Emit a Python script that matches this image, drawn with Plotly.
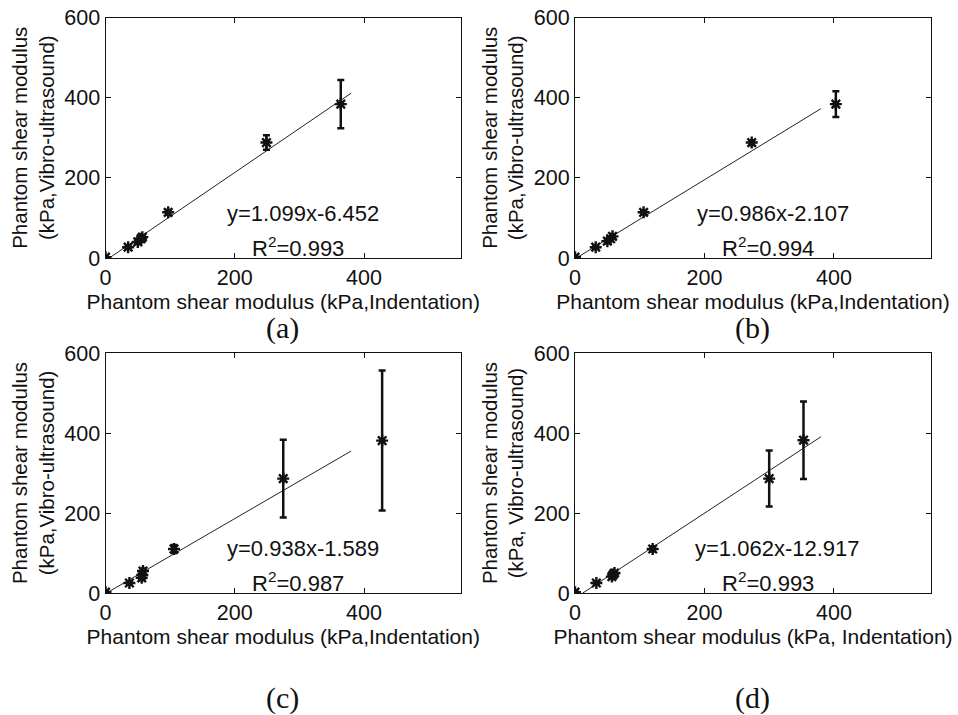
import plotly.graph_objects as go

# ---------------- data ----------------
panel_labels = ["(a)", "(b)", "(c)", "(d)"]

x_a = [0, 35, 50, 55, 57, 97, 249, 364]
y_a = [2, 27, 40, 48, 52, 114, 288, 384]
e_a = [2, 4, 5, 5, 5, 6, 18, 60]

x_b = [0, 32, 50, 55, 58, 106, 273, 403]
y_b = [2, 27, 42, 48, 54, 114, 288, 384]
e_b = [2, 4, 5, 5, 5, 5, 6, 32]

x_c = [0, 37, 56, 57, 58, 106, 275, 428]
y_c = [2, 25, 38, 45, 55, 110, 286, 381]
e_c = [2, 4, 6, 6, 6, 10, 97, 175]

x_d = [0, 33, 57, 59, 61, 120, 300, 353]
y_d = [2, 25, 41, 46, 50, 110, 286, 382]
e_d = [2, 4, 5, 5, 5, 6, 70, 97]

slopes = [1.099, 0.986, 0.938, 1.062]
intercepts = [-6.452, -2.107, -1.589, -12.917]
eq_texts = ["y=1.099x-6.452", "y=0.986x-2.107", "y=0.938x-1.589", "y=1.062x-12.917"]
r2_texts = ["R<sup>2</sup>=0.993", "R<sup>2</sup>=0.994", "R<sup>2</sup>=0.987", "R<sup>2</sup>=0.993"]
fit_x = [0, 380]

x_ticks = [0, 200, 400]
y_ticks = [0, 200, 400, 600]
x_title = ["Phantom shear modulus (kPa,Indentation)"] * 3 + ["Phantom shear modulus (kPa, Indentation)"]
y_title = ["Phantom shear modulus<br>(kPa,Vibro-ultrasound)"] * 3 + ["Phantom shear modulus<br>(kPa, Vibro-ultrasound)"]

# ---------------- layout geometry ----------------
W, H = 958, 715
xdoms = [(105.5, 461), (575, 931), (105.5, 461), (575, 931)]
ydoms = [(17.5, 258), (17.5, 258), (353, 593), (353, 593)]
eq_pos = [(0.556, 0.187), (0.556, 0.187), (0.556, 0.187), (0.57, 0.187)]
r2_pos = [(0.541, 0.046), (0.541, 0.046), (0.541, 0.046), (0.542, 0.046)]
lab_pos = [(282, 328), (752, 328), (282, 698), (752, 698)]

FONT = "Liberation Sans, Arial, sans-serif"
INK = "#111111"


def px(v):
    return v / W


def py(v):
    return 1 - v / H


fig = go.Figure()
data = [(x_a, y_a, e_a), (x_b, y_b, e_b), (x_c, y_c, e_c), (x_d, y_d, e_d)]

for i, (xs, ys, es) in enumerate(data):
    n = "" if i == 0 else str(i + 1)
    fy = [slopes[i] * v + intercepts[i] for v in fit_x]
    fig.add_trace(go.Scatter(
        x=fit_x, y=fy, mode="lines", line=dict(color="#222222", width=1),
        xaxis="x" + n, yaxis="y" + n, showlegend=False, hoverinfo="skip"))
    fig.add_trace(go.Scatter(
        x=xs, y=ys, mode="markers",
        marker=dict(symbol="asterisk-open", size=10, color=INK, line=dict(color=INK, width=2.4)),
        error_y=dict(type="data", array=es, visible=True, color=INK, thickness=2.5, width=3.5),
        xaxis="x" + n, yaxis="y" + n, showlegend=False))

    x0, x1 = xdoms[i]
    y0, y1 = ydoms[i]
    common = dict(showgrid=False, zeroline=False, showline=True, linecolor=INK, linewidth=1,
                  mirror="ticks", ticks="inside", ticklen=5, tickcolor=INK, automargin=False,
                  tickfont=dict(family=FONT, size=21.5, color=INK))
    fig.update_layout(**{
        "xaxis" + n: dict(domain=[px(x0), px(x1)], range=[0, 550], tickvals=x_ticks,
                          anchor="y" + n,
                          title=dict(text=x_title[i], font=dict(family=FONT, size=21, color=INK), standoff=2),
                          **common),
        "yaxis" + n: dict(domain=[py(y1), py(y0)], range=[0, 600], tickvals=y_ticks,
                          anchor="x" + n,
                          title=dict(text=y_title[i], font=dict(family=FONT, size=20.5, color=INK), standoff=4),
                          **common),
    })
    fig.add_annotation(text=eq_texts[i], x=eq_pos[i][0], y=eq_pos[i][1],
                       xref="x" + n + " domain", yref="y" + n + " domain", showarrow=False,
                       xanchor="center", yanchor="middle",
                       font=dict(family=FONT, size=22, color=INK))
    fig.add_annotation(text=r2_texts[i], x=r2_pos[i][0], y=r2_pos[i][1],
                       xref="x" + n + " domain", yref="y" + n + " domain", showarrow=False,
                       xanchor="center", yanchor="middle",
                       font=dict(family=FONT, size=22, color=INK))
    fig.add_annotation(text=panel_labels[i], x=px(lab_pos[i][0]), y=py(lab_pos[i][1]),
                       xref="paper", yref="paper", showarrow=False,
                       xanchor="center", yanchor="middle",
                       font=dict(family="Liberation Serif, Times New Roman, serif", size=30, color=INK))

fig.update_layout(width=W, height=H, margin=dict(l=0, r=0, t=0, b=0),
                  paper_bgcolor="white", plot_bgcolor="white")

fig.write_html("out.html", config={"displayModeBar": False},
               post_script="document.body.style.margin='0';document.body.style.overflow='hidden';")
